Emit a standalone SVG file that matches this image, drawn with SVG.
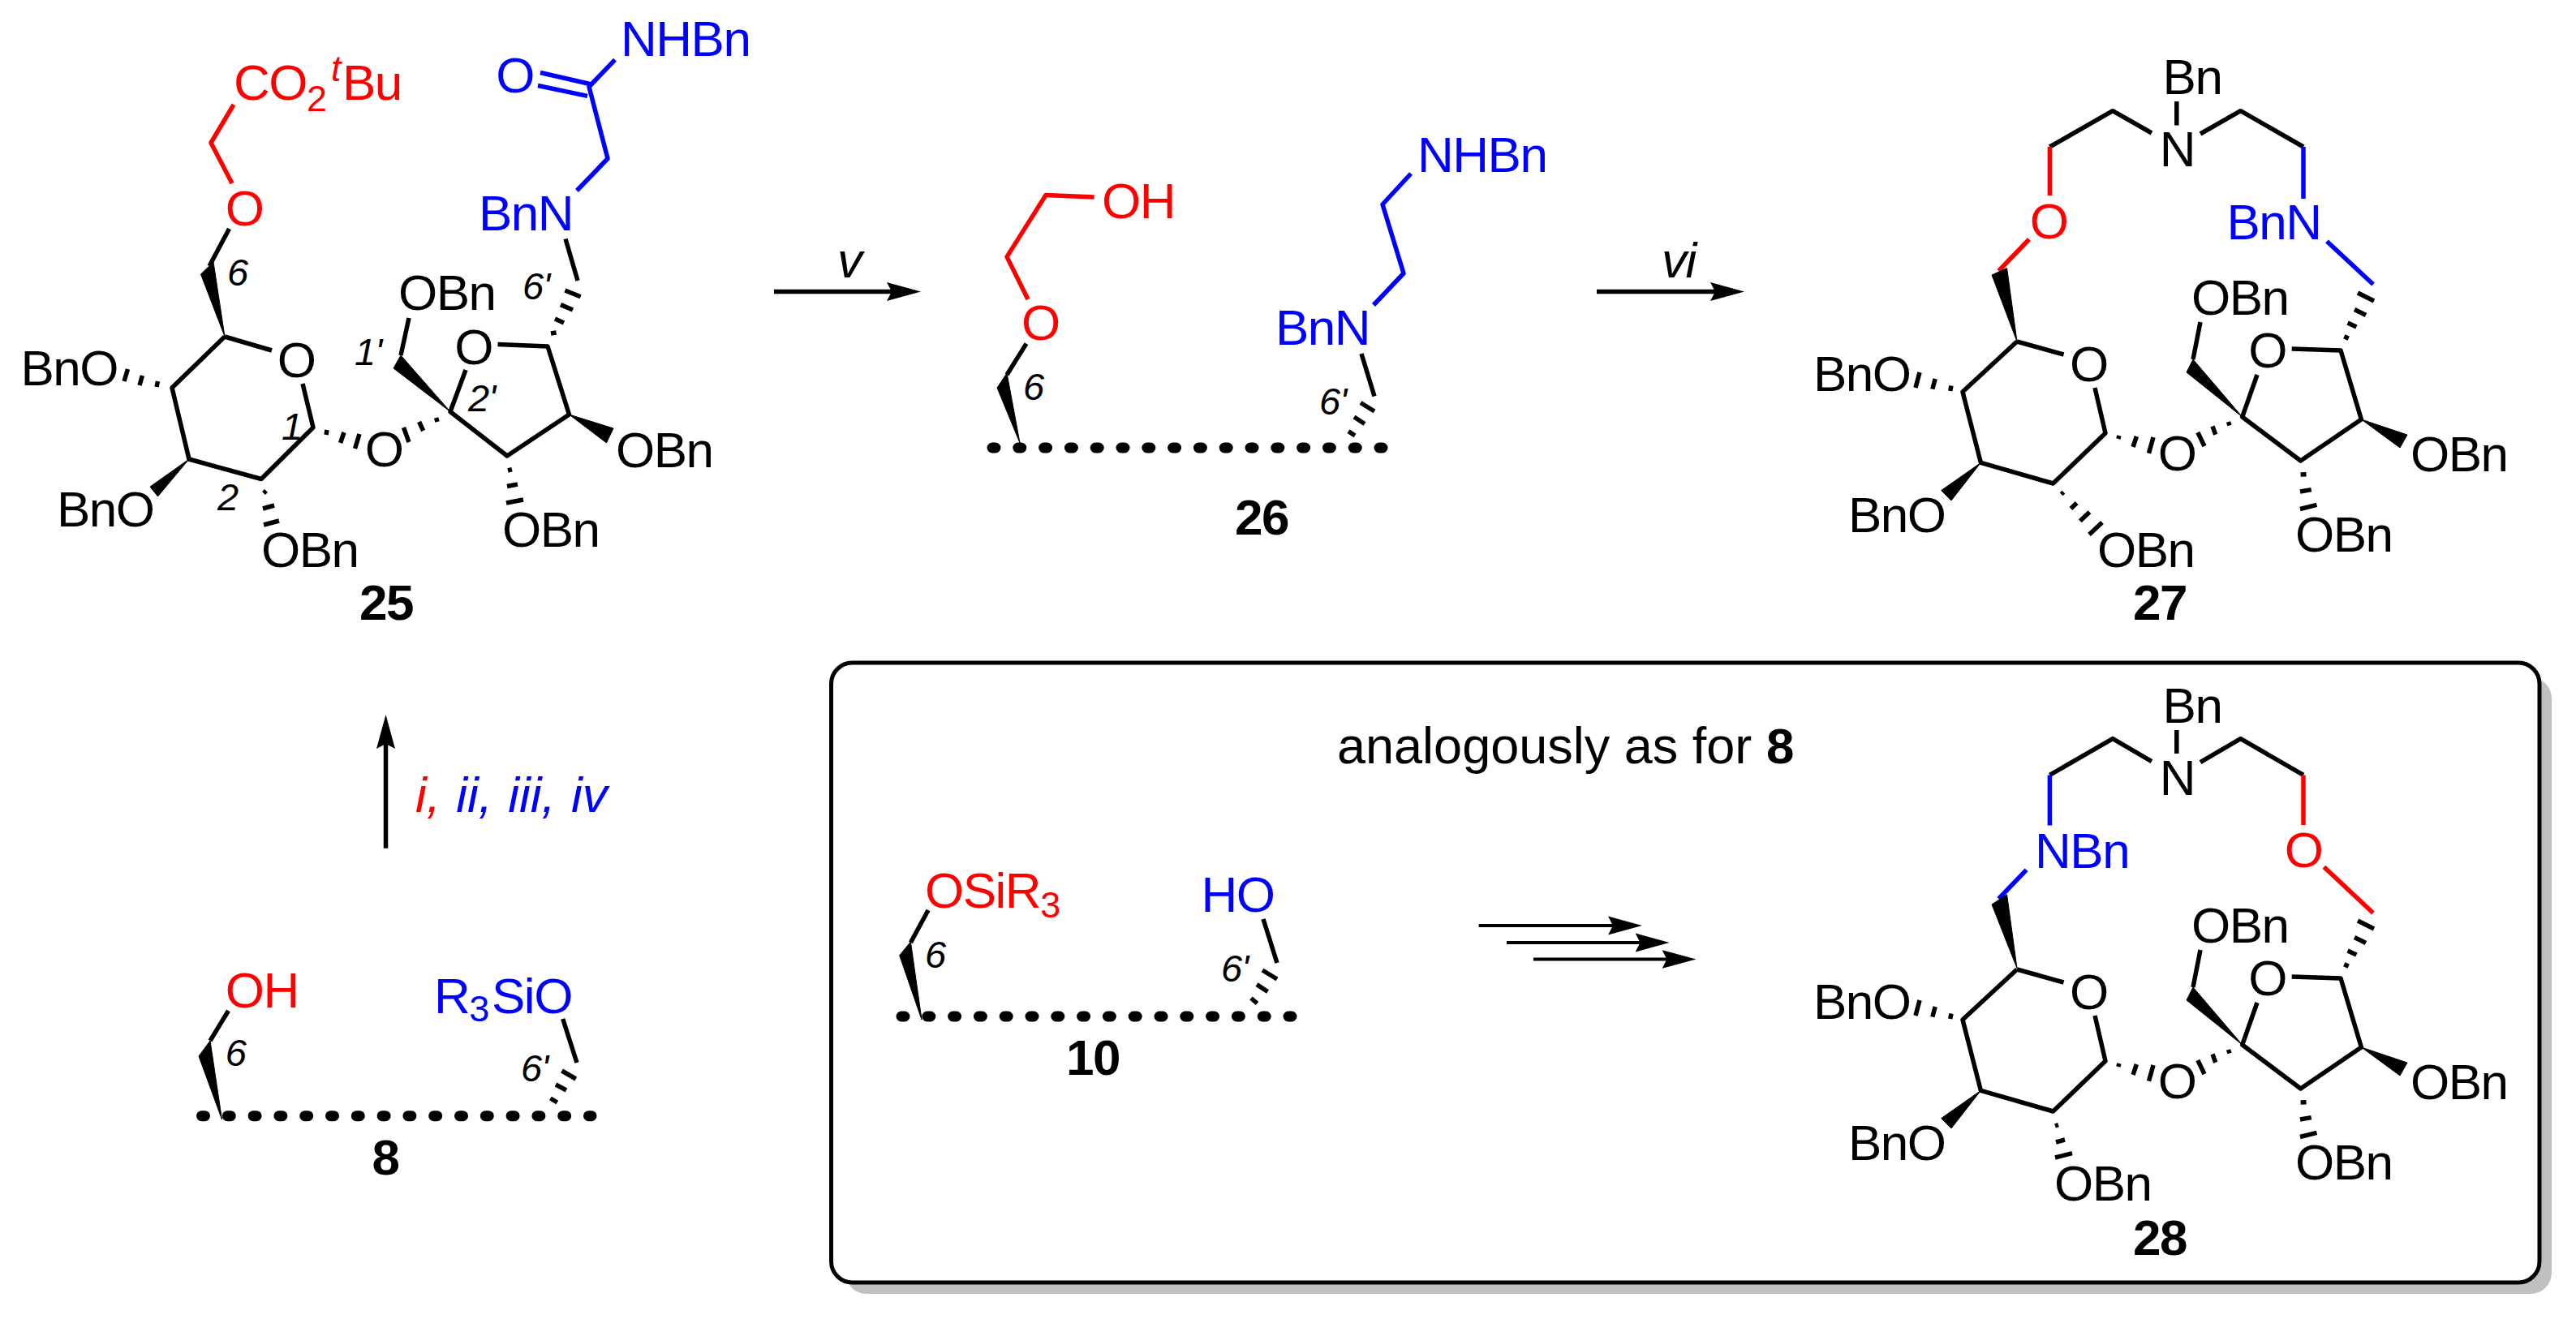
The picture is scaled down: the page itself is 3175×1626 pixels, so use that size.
<svg xmlns="http://www.w3.org/2000/svg" width="3175" height="1626" viewBox="0 0 3175 1626">
<style>
text{font-family:"Liberation Sans",Arial,sans-serif;font-size:62px;letter-spacing:-1.5px;fill:#000}
.r{fill:#f00}.b{fill:#00f}
.c{font-weight:700}
.n{font-style:italic;font-size:47px;letter-spacing:-1px}
.i{font-style:italic}
.s{font-size:45px}
.m{text-anchor:middle}
path,line{fill:none;stroke:#000;stroke-width:5.5;stroke-linejoin:round}
.sr{stroke:#f00}.sb{stroke:#00f}
.w{fill:#000;stroke:#000;stroke-width:1}
.d{stroke-width:13;stroke-linecap:round;stroke-dasharray:4 27.8}
.a{marker-end:url(#h)}
.a4{stroke-width:4;marker-end:url(#h)}
</style>
<defs>
<marker id="h" markerUnits="userSpaceOnUse" markerWidth="44" markerHeight="26" refX="12" refY="13" orient="auto"><path d="M0,1.5 L42,13 L0,24.5 L6,13z" style="fill:#000;stroke:none"/></marker>
</defs>
<rect x="1042" y="835" width="2103" height="760" rx="26" fill="#c0c0c0"/>
<rect id="box" x="1024.5" y="817" width="2105.5" height="764" rx="26" fill="#fff" stroke="#000" stroke-width="5"/>
<text x="1648" y="941" style="font-size:63px;letter-spacing:0">analogously as for</text>
<text x="2177" y="941" class="c">8</text>

<g id="connectors">
<line class="a" x1="954" y1="359.4" x2="1105" y2="359.4"/>
<line class="a" x1="1968" y1="359.4" x2="2120" y2="359.4"/>
<line class="a" x1="475.5" y1="1045.7" x2="475.5" y2="911"/>
<line class="a4" x1="1822.7" y1="1141" x2="1994" y2="1141"/>
<line class="a4" x1="1857" y1="1162" x2="2027.6" y2="1162"/>
<line class="a4" x1="1890" y1="1182.5" x2="2060.5" y2="1182.5"/>
<text x="1032" y="342" class="i">v</text>
<text x="2048" y="342" class="i">vi</text>
<text x="512" y="1001" class="i" style="letter-spacing:0;word-spacing:2px"><tspan class="r">i,</tspan><tspan class="b"> ii, iii, iv</tspan></text>
</g>

<g id="mol25">
<path d="M277,415L212,478L233,566L322,590.5L386,527L373,473M277,415L335,432M258,328L282.5,282"/>
<path class="w" d="M277,415L247.5,338L263,323z"/>
<path class="sr" d="M286,226L260,176L288,129"/>
<text x="288" y="123" class="r">CO<tspan class="s" dy="14">2</tspan><tspan class="s i" x="408" dy="-37.5">t</tspan><tspan x="422" dy="23.5">Bu</tspan></text>
<text x="301" y="278" class="r m">O</text>
<text x="365" y="465" class="m">O</text>
<text x="765" y="68.6" class="b">NHBn</text>
<text x="634.5" y="114" class="b m">O</text>
<path class="sb" d="M666,89.5L727,103.5M663,105.5L724,118.4M758,73.6L726,107L749,195.5L711,235"/>
<text x="590" y="283.6" class="b">BnN</text>
<path d="M697,294.5L712,346"/>
<path d="M679,411L685.6,410M684,393L695,398M691,375.6L706,382M696.4,358L715.6,365.7"/>
<path d="M613.5,424.4L675,427L701.5,511L625,562L555,507.5L574,456M494,438L504,392"/>
<path class="w" d="M555,507.5L485,454L494,438z"/>
<path class="w" d="M701.5,511L747.5,546L756,528z"/>
<path d="M153,470L157.5,455M172,475L175.4,463M193,477L194.5,470"/>
<path d="M402,536L403,530M419.6,546L424,533M437.5,553L443,535"/>
<path d="M539,520L537.6,515M521.7,531L516.6,520M504,545L497.5,527"/>
<path d="M325,608L328,605M324,627L338,623M325,647L344,642"/>
<path d="M626,580L631,578.6M625,599.5L638,597M624,620L645,616"/>
<path class="w" d="M233,566L185,600L194.5,612z"/>
<text x="583.5" y="449" class="m">O</text>
<text x="473" y="575" class="m">O</text>
<text x="491" y="382">OBn</text>
<text x="759" y="576">OBn</text>
<text x="619" y="674">OBn</text>
<text x="322" y="699">OBn</text>
<text x="70" y="649">BnO</text>
<text x="25.5" y="475">BnO</text>
<text x="280" y="352" class="n">6</text>
<text x="437" y="450" class="n">1'</text>
<text x="577" y="507" class="n">2'</text>
<text x="644" y="369" class="n">6'</text>
<text x="347" y="542" class="n">1</text>
<text x="268" y="629" class="n">2</text>
<text x="443" y="764" class="c">25</text>
</g>

<g id="mol26">
<text x="1358" y="268.6" class="r">OH</text>
<path class="sr" d="M1348.6,243L1289,240.5L1241,316.6L1267,369"/>
<text x="1282.4" y="419" class="r m">O</text>
<path d="M1265,423.6L1241,462"/>
<path class="w" d="M1257,546L1229,478L1241,460z"/>
<line class="d" x1="1223" y1="552" x2="1704" y2="552"/>
<text x="1261" y="493" class="n">6</text>
<text x="1747" y="212" class="b">NHBn</text>
<path class="sb" d="M1739,214L1704,252L1730,337L1693,376"/>
<text x="1572" y="425" class="b">BnN</text>
<path d="M1678,436L1694,488.5M1677,496.5L1694,507M1669,514L1682,522.5M1662,531.6L1670,537"/>
<text x="1626" y="511" class="n">6'</text>
<text x="1522" y="658.6" class="c">26</text>
</g>

<g id="mol27">
<text x="2665.6" y="116">Bn</text>
<text x="2683.5" y="205" class="m">N</text>
<path d="M2682.8,125L2682.8,154.6M2652,164L2604,136.7L2526.4,181M2712,165L2761.6,136.7L2839,181"/>
<path class="sr" d="M2526.4,181L2526.4,241M2501,295L2463.4,334"/>
<text x="2525" y="294" class="r m">O</text>
<path class="sb" d="M2839,181L2839,245M2868,297.4L2925,350.5"/>
<text x="2744.5" y="295" class="b">BnN</text>
<path class="w" d="M2486,421L2455,339L2473.6,330.6z"/>
<text x="2585" y="699">OBn</text>
<path d="M2540.6,609.4L2543.4,606.6M2552.4,627L2559.6,620M2563.8,642.2L2575.4,631.2M2575,659L2591,644"/>
<text x="2629" y="764" class="c">27</text>
<g>
<path d="M2486,421L2419,483L2441.4,570.4L2530.5,596L2595,534L2582,478M2486,421L2543.6,437"/>
<text x="2574.4" y="470" class="m">O</text>
<path d="M2361,478L2366,459M2381.8,479.6L2385.2,467M2403.7,482L2405,475.5"/>
<text x="2235" y="482">BnO</text>
<path class="w" d="M2441.4,570.4L2392.7,604.6L2405,617z"/>
<text x="2278" y="655.6">BnO</text>
<path d="M2610.8,541L2612,537M2629,551L2633.4,538M2648.5,558.7L2654,539"/>
<text x="2683" y="580" class="m">O</text>
<path d="M2748,524.5L2746.5,520M2730.7,535.7L2727,525.5M2717,550L2708.8,533"/>
<text x="2794.5" y="453" class="m">O</text>
<path d="M2824.7,430L2885,432L2910.4,517L2835.6,568L2763.7,514L2782,462M2703,443L2712,397"/>
<path class="w" d="M2763.7,514L2695,459L2703,443z"/>
<text x="2701" y="388">OBn</text>
<path class="w" d="M2910.4,517L2958,552L2967,536z"/>
<text x="2971" y="580.6">OBn</text>
<path d="M2835.6,585L2842.5,584.7M2835,606L2848.7,603.6M2835,627.5L2855.5,622.4"/>
<text x="2829" y="680">OBn</text>
<path d="M2889.3,414.7L2894.7,417.3M2893.6,397.9L2904.4,403.1M2902,381.5L2916,388.5M2906,361L2926,371"/>
</g>
</g>

<g id="mol28">
<text x="2665.6" y="891">Bn</text>
<text x="2683.5" y="980" class="m">N</text>
<path d="M2682.8,900L2682.8,929M2652,938.6L2604,910.6L2526.4,955.4M2712,939.6L2761.6,910.6L2839,955.4"/>
<path class="sb" d="M2526.4,955.4L2526.4,1017.6M2497.6,1072.4L2463.4,1108"/>
<text x="2508" y="1069.8" class="b">NBn</text>
<path class="sr" d="M2839,955.4L2839,1017M2864.4,1068.7L2925,1125.6"/>
<text x="2839" y="1068.6" class="r m">O</text>
<path class="w" d="M2486,1193.6L2455,1115L2473.6,1103z"/>
<text x="2532" y="1479.6">OBn</text>
<path d="M2533,1388L2537,1386.6M2534,1408L2545,1405M2533,1427L2554,1421.7"/>
<text x="2629" y="1547" class="c">28</text>
<g transform="translate(0,774)">
<path d="M2486,421L2419,483L2441.4,570.4L2530.5,596L2595,534L2582,478M2486,421L2543.6,437"/>
<text x="2574.4" y="470" class="m">O</text>
<path d="M2361,478L2366,459M2381.8,479.6L2385.2,467M2403.7,482L2405,475.5"/>
<text x="2235" y="482">BnO</text>
<path class="w" d="M2441.4,570.4L2392.7,604.6L2405,617z"/>
<text x="2278" y="655.6">BnO</text>
<path d="M2610.8,541L2612,537M2629,551L2633.4,538M2648.5,558.7L2654,539"/>
<text x="2683" y="580" class="m">O</text>
<path d="M2748,524.5L2746.5,520M2730.7,535.7L2727,525.5M2717,550L2708.8,533"/>
<text x="2794.5" y="453" class="m">O</text>
<path d="M2824.7,430L2885,432L2910.4,517L2835.6,568L2763.7,514L2782,462M2703,443L2712,397"/>
<path class="w" d="M2763.7,514L2695,459L2703,443z"/>
<text x="2701" y="388">OBn</text>
<path class="w" d="M2910.4,517L2958,552L2967,536z"/>
<text x="2971" y="580.6">OBn</text>
<path d="M2835.6,585L2842.5,584.7M2835,606L2848.7,603.6M2835,627.5L2855.5,622.4"/>
<text x="2829" y="680">OBn</text>
<path d="M2889.3,414.7L2894.7,417.3M2893.6,397.9L2904.4,403.1M2902,381.5L2916,388.5M2906,361L2926,371"/>
</g>
</g>

<g id="mol10">
<text x="1140" y="1118.8" class="r">OSiR<tspan class="s" dy="12">3</tspan></text>
<text x="1480.6" y="1124" class="b">HO</text>
<path d="M1144,1122L1122.4,1162"/>
<path class="w" d="M1136,1257L1108.7,1177.8L1122.4,1161z"/>
<text x="1140" y="1192.5" class="n">6</text>
<line class="d" x1="1111" y1="1253" x2="1592" y2="1253"/>
<path d="M1557,1133L1574,1187M1556,1196L1574,1207M1549,1213.6L1562.5,1222.5M1542,1230.5L1549.5,1237"/>
<text x="1505" y="1210" class="n">6'</text>
<text x="1314" y="1325" class="c">10</text>
</g>

<g id="mol8">
<text x="277.7" y="1241.8" class="r">OH</text>
<text x="535" y="1249" class="b">R<tspan class="s" dy="10">3</tspan><tspan x="606" dy="-10">SiO</tspan></text>
<path d="M281.5,1246L259,1283"/>
<path class="w" d="M273.5,1380L245,1302L259,1283z"/>
<text x="277.7" y="1314" class="n">6</text>
<line class="d" x1="248.5" y1="1375.7" x2="729" y2="1375.7"/>
<path d="M693.7,1256L711,1310M692.5,1320L709.8,1330M685,1337L698,1344M678.4,1354L686.8,1359"/>
<text x="642" y="1333" class="n">6'</text>
<text x="475" y="1448" class="c m">8</text>
</g>
</svg>
